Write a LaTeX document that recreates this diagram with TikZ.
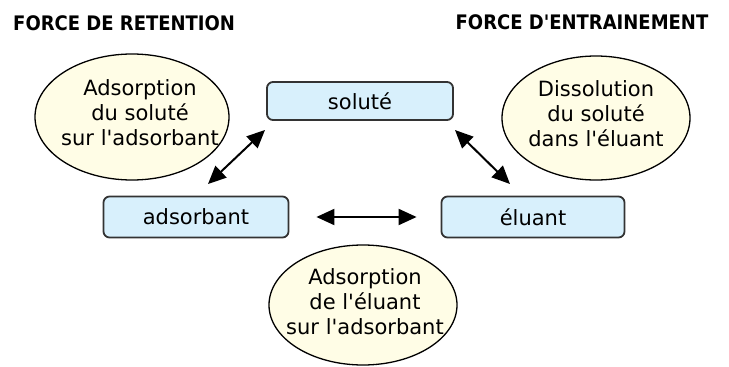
\documentclass[tikz,border=0pt]{standalone}
\usepackage{fontspec}
\newfontfamily\bodyfont{DejaVu Sans}
\newfontfamily\titlefont{DejaVu Sans Condensed}
\usetikzlibrary{shapes.geometric,arrows.meta}
\definecolor{boxfill}{HTML}{D8F0FC}
\definecolor{ellfill}{HTML}{FFFDE6}
\definecolor{edge}{HTML}{333333}
\tikzset{
  every node/.style={font=\bodyfont\fontsize{21}{25}\selectfont},
  stbox/.style={draw=edge, line width=1.8pt, fill=boxfill, rounded corners=6pt, inner sep=0pt},
  bubble/.style={ellipse, draw=black, line width=1.3pt, fill=ellfill, inner sep=0pt},
  btext/.style={align=center, inner sep=0pt},
  ttl/.style={font=\titlefont\bfseries\fontsize{20}{24}\selectfont, inner sep=0pt},
  dbl/.style={{Triangle[length=18pt,width=16pt]}-{Triangle[length=18pt,width=16pt]}, line width=2pt, black}
}
\begin{document}
\begin{tikzpicture}[x=1pt,y=-1pt]
\useasboundingbox (0,0) rectangle (729,367);
\node[ttl, anchor=west] (t1) at (13,23) {FORCE DE RETENTION};
\node[ttl] (t2) at (582,22) {FORCE D'ENTRAINEMENT};

\node[stbox, minimum width=186pt, minimum height=38pt] (solute) at (360,101) {soluté};
\node[stbox, minimum width=185pt, minimum height=41pt] (adsorbant) at (196,217) {adsorbant};
\node[stbox, minimum width=183pt, minimum height=41pt] (eluant) at (533,217) {éluant};

\node[bubble, minimum width=194pt, minimum height=126pt] (e1) at (132,117) {};
\node[btext] (e1t) at (140,113) {Adsorption\\du soluté\\sur l'adsorbant};
\node[bubble, minimum width=188pt, minimum height=124pt] (e2) at (596,118) {};
\node[btext] (e2t) at (596,114) {Dissolution\\du soluté\\dans l'éluant};
\node[bubble, minimum width=188pt, minimum height=120pt] (e3) at (363,305) {};
\node[btext] (e3t) at (365,302) {Adsorption\\de l'éluant\\sur l'adsorbant};

\coordinate (a1) at (208,184);
\coordinate (a2) at (265,130);
\coordinate (b1) at (455,130);
\coordinate (b2) at (510,184);
\draw[dbl] (a1) -- (a2);
\draw[dbl] (b1) -- (b2);
\draw[dbl, shorten <=27pt, shorten >=24pt] (adsorbant.east) -- (eluant.west);
\end{tikzpicture}
\end{document}
